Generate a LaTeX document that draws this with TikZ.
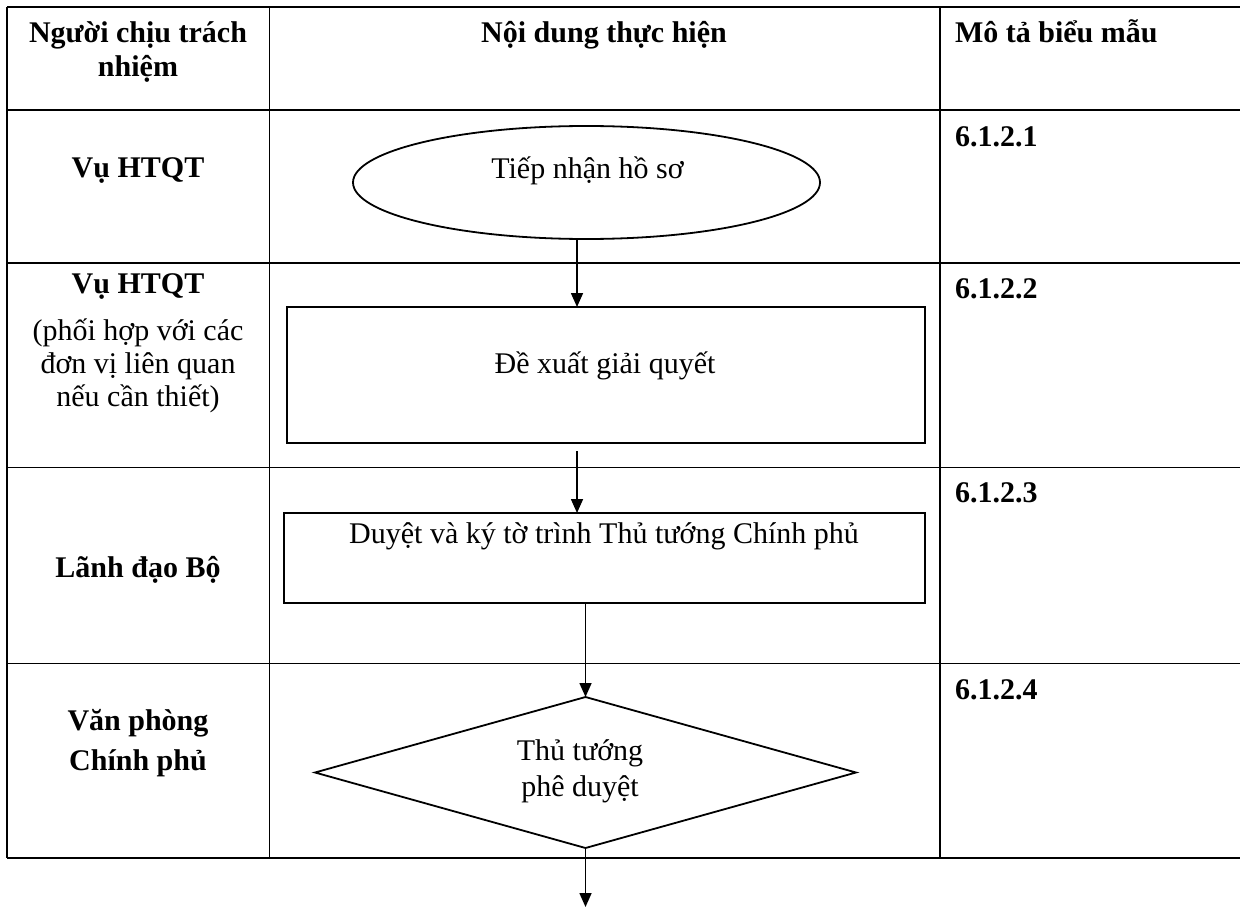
\documentclass[tikz,border=0pt]{standalone}
\usepackage{fontspec}
\setmainfont{Liberation Serif}
\usetikzlibrary{shapes.geometric,arrows.meta}
\begin{document}
\begin{tikzpicture}[x=0.5pt,y=-0.5pt,
  thickline/.style={line width=1pt},
  thinline/.style={line width=0.5pt},
  txt/.style={inner sep=0pt,outer sep=0pt,anchor=base,font=\fontsize{15pt}{16.5pt}\selectfont},
  btxt/.style={txt,font=\fontsize{15pt}{16.5pt}\selectfont\bfseries},
  ltxt/.style={btxt,anchor=base west},
  flowshape/.style={draw,line width=0.9pt,inner sep=0pt,outer sep=0pt},
  arr/.style={line width=0.8pt,-{Triangle[length=7pt,width=6pt]}}
]
\useasboundingbox (0,0) rectangle (1240,909);

% table grid
\draw[thickline] (7,7) -- (1241,7);
\draw[thickline] (7,110) -- (1241,110);
\draw[thickline] (7,263) -- (1241,263);
\draw[thinline] (7,467) -- (1241,467);
\draw[thinline] (7,663) -- (1241,663);
\draw[thickline] (7,858) -- (1241,858);
\draw[thickline] (7,7) -- (7,858);
\draw[thinline] (269,7) -- (269,858);
\draw[thickline] (940,7) -- (940,858);

% header
\node[btxt] (h1a) at (138,43) {Người chịu trách};
\node[btxt] (h1b) at (138,77) {nhiệm};
\node[btxt] (h2) at (604,43) {Nội dung thực hiện};
\node[ltxt] (h3) at (955,43) {Mô tả biểu mẫu};

% left column
\node[btxt] (r1) at (138,177) {Vụ HTQT};
\node[btxt] (r2a) at (138,293) {Vụ HTQT};
\node[txt] (r2b) at (138,340) {(phối hợp với các};
\node[txt] (r2c) at (138,373) {đơn vị liên quan};
\node[txt] (r2d) at (138,406) {nếu cần thiết)};
\node[btxt] (r3) at (138,577) {Lãnh đạo Bộ};
\node[btxt] (r4a) at (138,730) {Văn phòng};
\node[btxt] (r4b) at (138,770) {Chính phủ};

% right column
\node[ltxt] (m1) at (955,147) {6.1.2.1};
\node[ltxt] (m2) at (955,298) {6.1.2.2};
\node[ltxt] (m3) at (955,502) {6.1.2.3};
\node[ltxt] (m4) at (955,699) {6.1.2.4};

% flow shapes
\node[flowshape,ellipse,minimum width=233.5pt,minimum height=56.5pt] (e) at (586.5,182.5) {};
\node[txt] (et) at (587.5,178) {Tiếp nhận hồ sơ};
\node[flowshape,rectangle,minimum width=319pt,minimum height=68pt] (b1) at (606,375) {};
\node[txt] (b1t) at (605,373) {Đề xuất giải quyết};
\node[flowshape,rectangle,minimum width=320.5pt,minimum height=45pt] (b2) at (604.5,558) {};
\node[txt] (b2t) at (604,543) {Duyệt và ký tờ trình Thủ tướng Chính phủ};
\node[flowshape,diamond,minimum width=270.5pt,minimum height=75.5pt] (d) at (585.5,772.5) {};
\node[txt] (dt1) at (580,760) {Thủ tướng};
\node[txt] (dt2) at (580,796) {phê duyệt};

% connectors
\coordinate (colA) at (577,0);
\coordinate (colB) at (585.5,0);
\coordinate (s2) at (577,451);
\coordinate (endp) at (585.5,907);
\draw[arr] (e.south -| colA) -- (b1.north -| colA);
\draw[arr] (s2) -- (b2.north -| s2);
\draw[arr] (b2.south -| colB) -- (d.north);
\draw[arr] (d.south) -- (endp);
\end{tikzpicture}
\end{document}
